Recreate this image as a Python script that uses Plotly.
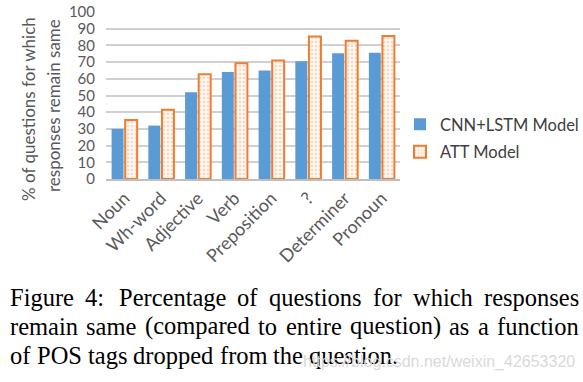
import plotly.graph_objects as go

categories = ["Noun", "Wh-word", "Adjective", "Verb", "Preposition", "?", "Determiner", "Pronoun"]
cnn_lstm = [30, 32, 52, 64, 65, 70.5, 75.3, 75.6]
att = [35.3, 41.5, 62.7, 69.3, 70.9, 85.4, 82.8, 85.6]
y_ticks = list(range(0, 101, 10))
y_title_lines = ["% of questions for which", "responses remain same"]
caption_lines = [
    "Figure 4:  Percentage of questions for which responses",
    "remain same (compared to entire question) as a function",
    "of POS tags dropped from the question.",
]
caption_justified = [True, True, False]
watermark = "https://blog.csdn.net/weixin_42653320"

W, H = 583, 382
L, R, T, B = 106, 183, 12, 203
pw, ph = W - L - R, H - T - B


def px(x):
    return (x - L) / pw


def py(y):
    return (H - B - y) / ph


# Times / Liberation Serif advance widths (1/1000 em) for caption layout
TW = {' ': 250, 'a': 444, 'b': 500, 'c': 444, 'd': 500, 'e': 444, 'f': 333, 'g': 500,
      'h': 500, 'i': 278, 'j': 278, 'k': 500, 'l': 278, 'm': 778, 'n': 500, 'o': 500,
      'p': 500, 'q': 500, 'r': 333, 's': 389, 't': 278, 'u': 500, 'v': 500, 'w': 722,
      'x': 500, 'y': 500, 'z': 444, 'F': 556, 'P': 556, 'O': 722, 'S': 556, ':': 278,
      '.': 250, '(': 333, ')': 333, '4': 500}


def tw(s, size):
    return sum(TW.get(c, 500) for c in s) * size / 1000.0


fig = go.Figure()
fig.add_trace(go.Bar(
    x=categories, y=cnn_lstm, name="CNN+LSTM Model", legendgroup="a",
    marker=dict(color="#5B9BD5", line=dict(width=0)),
))
fig.add_trace(go.Bar(
    x=categories, y=att, name="ATT Model", legendgroup="b",
    marker=dict(color="#FDF1EA", line=dict(color="#ED7D31", width=2),
                pattern=dict(shape=".", fgcolor="#F4B690", bgcolor="#FFF8F3", size=4, solidity=0.35)),
))

font_ui = "Lato, 'Open Sans', sans-serif"
fig.update_layout(
    width=W, height=H,
    margin=dict(l=L, r=R, t=T, b=B, pad=0, autoexpand=False),
    paper_bgcolor="white", plot_bgcolor="white",
    barmode="group", bargap=0.26, bargroupgap=0.12,
    font=dict(family=font_ui, color="#595959"),
    showlegend=True,
    legend=dict(x=px(400), y=py(107), xanchor="left", yanchor="top",
                font=dict(size=16.5, color="#404040", family=font_ui),
                bgcolor="rgba(0,0,0,0)", itemwidth=30, tracegroupgap=3),
    xaxis=dict(tickangle=-45, tickfont=dict(size=18, color="#595959"),
               showline=True, linecolor="#BFBFBF", linewidth=1.5, ticks="",
               showgrid=False, automargin=False),
    yaxis=dict(range=[0, 100], tickvals=y_ticks, tickfont=dict(size=15, color="#595959"),
               showgrid=True, gridcolor="#D0D0D0", gridwidth=1.5, zeroline=False,
               showline=False, ticks="", ticklabelstandoff=10, automargin=False),
)

# y-axis title as two rotated lines
for line, (cx, cy) in zip(y_title_lines, [(28, 109), (53, 106)]):
    fig.add_annotation(text=line, xref="paper", yref="paper", x=px(cx), y=py(cy),
                       xanchor="center", yanchor="middle", textangle=-90, showarrow=False,
                       font=dict(size=17, color="#595959", family=font_ui))

# caption, justified like the paper's text
serif = "'Liberation Serif', 'Times New Roman', serif"
cap_size = 24.5
x0, x1 = 9, 578
centers = [297, 326, 355]
for line, cy, just in zip(caption_lines, centers, caption_justified):
    words = line.replace(":  ", ": ").split(" ")
    widths = [tw(w, cap_size) for w in words]
    if just:
        weights = [1.3 if w.endswith(":") else 1.0 for w in words[:-1]]
        gap_unit = (x1 - x0 - sum(widths)) / sum(weights)
        gaps = [gap_unit * k for k in weights]
    else:
        gaps = [tw(" ", cap_size)] * (len(words) - 1)
    x = x0
    for i, (w, wd) in enumerate(zip(words, widths)):
        fig.add_annotation(text=w, xref="paper", yref="paper", x=px(x - 1), y=py(cy),
                           xanchor="left", yanchor="middle", showarrow=False,
                           font=dict(family=serif, size=cap_size, color="#000000"))
        x += wd + (gaps[i] if i < len(gaps) else 0)

fig.add_annotation(text=watermark, xref="paper", yref="paper", x=px(577), y=py(362),
                   xanchor="right", yanchor="middle", showarrow=False,
                   font=dict(family="'Liberation Sans', Arial, sans-serif", size=16, color="#D9D9D9"))

fig.write_html("out.html", config={"displayModeBar": False},
               post_script="document.body.style.margin='0';document.body.style.padding='0';")
